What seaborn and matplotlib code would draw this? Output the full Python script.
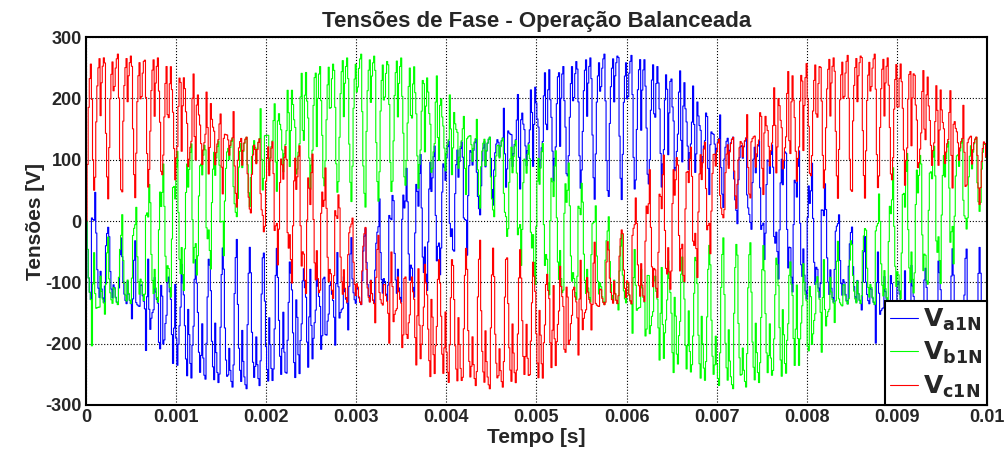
import numpy as np
import pandas as pd
import matplotlib
matplotlib.use('Agg')
import matplotlib.pyplot as plt
import seaborn as sns

# values
phase_labels = [r'$\mathbf{V_{a1N}}$', r'$\mathbf{V_{b1N}}$', r'$\mathbf{V_{c1N}}$']
phase_colors = ['#0000ff', '#00ff00', '#ff0000']
crest_times = [0.00575, 0.0031, 0.0004]   # time of positive crest of each phase [s]
fund_period = 0.0082                      # crest-to-crest spacing [s]
carrier_period = 0.00015                  # spacing of the switching pulses [s]
dc_bus = 420                              # top level 2/3*Vdc ~ 280 V
mod_index = 0.9
filter_tau = 18e-6                        # smoothing seen on the edges [s]
sample_step = 12e-6                       # width of the small stairs [s]
t_end = 0.01

xticks = [0, 0.001, 0.002, 0.003, 0.004, 0.005, 0.006, 0.007, 0.008, 0.009, 0.01]
xticklabels = ['0', '0.001', '0.002', '0.003', '0.004', '0.005', '0.006', '0.007', '0.008', '0.009', '0.01']
yticks = [-300, -200, -100, 0, 100, 200, 300]

# two-level sine PWM rebuilt from the read parameters
dt = 1e-6
t = np.arange(0, t_end + dt, dt)
w = 2 * np.pi / fund_period
tri = 4 * np.abs((t / carrier_period) % 1 - 0.5) - 1
poles = np.array([np.where(mod_index * np.cos(w * (t - tc)) > tri, 0.5, -0.5) * dc_bus
                  for tc in crest_times])
vn = poles - poles.mean(axis=0)

# first-order smoothing, then zero-order hold as the stairs in the figure
a = dt / filter_tau
vf = np.zeros_like(vn)
vf[:, 0] = vn[:, 0]
for n in range(1, len(t)):
    vf[:, n] = vf[:, n - 1] + a * (vn[:, n] - vf[:, n - 1])
step = int(round(sample_step / dt))
ts = t[::step]
vs = vf[:, ::step]

df = pd.concat([pd.DataFrame({'t': ts, 'v': vs[i], 'fase': phase_labels[i]}) for i in range(3)])

sns.set_style('white')
plt.rcParams['font.family'] = ['Liberation Sans', 'DejaVu Sans']
plt.rcParams['font.weight'] = 'bold'
plt.rcParams['mathtext.default'] = 'bf'

fig = plt.figure(figsize=(10.06, 4.53), dpi=100)
ax = fig.add_axes([0.0855, 0.106, 0.8956, 0.812])
sns.lineplot(data=df, x='t', y='v', hue='fase', palette=phase_colors, estimator=None,
             sort=False, linewidth=0.8, drawstyle='steps-post', ax=ax)

ax.set_xlim(0, t_end)
ax.set_ylim(-300, 300)
ax.set_xticks(xticks)
ax.set_xticklabels(xticklabels, fontsize=13, fontweight='bold')
ax.set_yticks(yticks)
ax.set_yticklabels([str(v) for v in yticks], fontsize=13, fontweight='bold')
ax.tick_params(direction='in', length=3, pad=3, color='black')
ax.grid(True, color='black', linestyle=':', linewidth=0.8)
for s in ax.spines.values():
    s.set_color('black')
    s.set_linewidth(1.5)

ax.set_title('Tensões de Fase - Operação Balanceada', fontsize=16, fontweight='bold', pad=7)
ax.set_xlabel('Tempo [s]', fontsize=15, fontweight='bold', labelpad=1)
ax.set_ylabel('Tensões [V]', fontsize=15, fontweight='bold', labelpad=0)

leg = ax.legend(loc='lower right', borderaxespad=0, fancybox=False, framealpha=1,
                prop={'size': 18, 'weight': 'bold'}, handlelength=1.1, handletextpad=0.2,
                labelspacing=0.3, borderpad=0.2)
leg.get_frame().set_edgecolor('black')
leg.get_frame().set_linewidth(1.5)

plt.savefig('out.png', dpi=100)
